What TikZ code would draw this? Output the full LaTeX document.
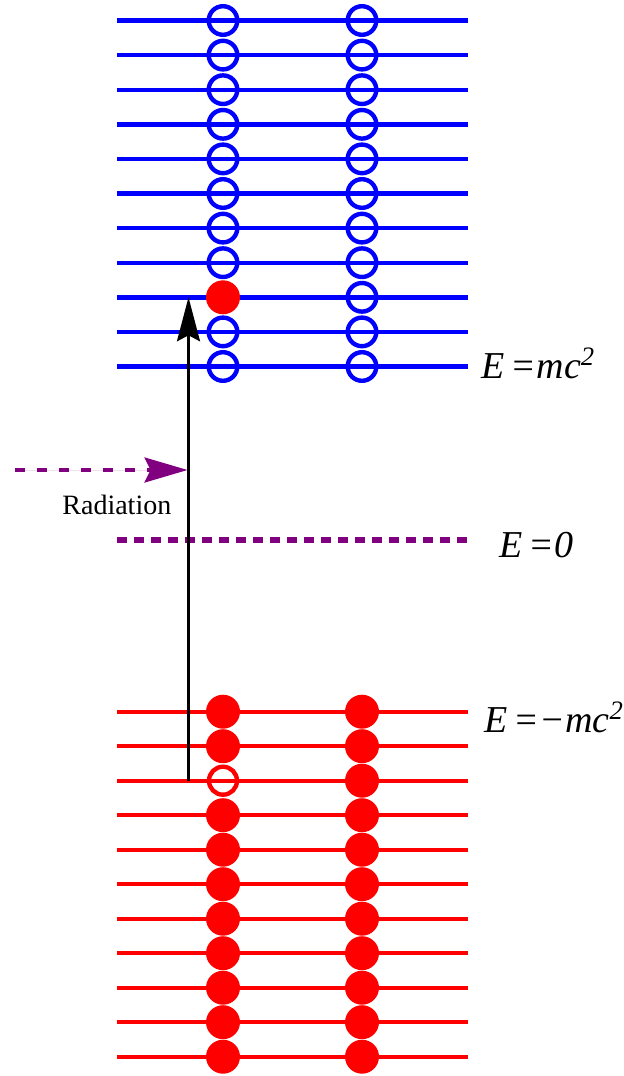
\documentclass[tikz,border=0pt]{standalone}
\usepackage{fontspec}
\setmainfont{Liberation Serif}
\usetikzlibrary{arrows.meta}
\definecolor{ljubicasta}{RGB}{128,0,128}

\begin{document}
\begin{tikzpicture}[x=0.5pt, y=-0.5pt,
    gornji/.style={draw=blue, line width=2.2pt},
    donji/.style={draw=red, line width=2.2pt},
    prazno/.style={circle, draw=blue, line width=2.2pt, minimum size=14.3pt, inner sep=0pt},
    rupa/.style={circle, draw=red, line width=2.2pt, minimum size=14pt, inner sep=0pt},
    puno/.style={circle, fill=red, minimum size=17pt, inner sep=0pt},
    nula/.style={draw=ljubicasta, line width=3.2pt, dash pattern=on 5pt off 3.5pt},
    zrak/.style={-{Stealth[length=21.5pt, width=12.5pt, inset=3pt]}, draw=ljubicasta, fill=ljubicasta,
                 line width=1.6pt, dash pattern=on 5pt off 6pt},
    skok/.style={-{Stealth[length=22pt, width=11.5pt, inset=3pt]}, draw=black, line width=1.2pt},
    oznaka/.style={anchor=base west, inner sep=0pt, font=\fontsize{19}{23}\selectfont\itshape}]

    \useasboundingbox (0,0) rectangle (623,1076);

    % pozitivni nivoi
    \foreach \k in {0,...,10} {
        \pgfmathsetmacro\y{20.5+34.6*\k}
        \coordinate (gl\k) at (117,\y);
        \coordinate (gd\k) at (468,\y);
        \draw [gornji] (gl\k) -- (gd\k);
        \ifnum\k=8
            \node (ga\k) [puno] at (223,\y) {};
        \else
            \node (ga\k) [prazno] at (223,\y) {};
        \fi
        \node (gb\k) [prazno] at (362,\y) {};
    }

    % negativni nivoi
    \foreach \k in {0,...,10} {
        \pgfmathsetmacro\y{711.7+34.5*\k}
        \coordinate (dl\k) at (117,\y);
        \coordinate (dd\k) at (468,\y);
        \draw [donji] (dl\k) -- (dd\k);
        \ifnum\k=2
            \node (da\k) [rupa] at (223,\y) {};
        \else
            \node (da\k) [puno] at (223,\y) {};
        \fi
        \node (db\k) [puno] at (362,\y) {};
    }

    % E = 0
    \coordinate (nl) at (117,540);
    \coordinate (nd) at (472,540);
    \draw [nula] (nl) -- (nd);

    % prelaz i zracenje
    \coordinate (skokA) at (188.5,780.7);
    \coordinate (skokB) at (188.5,297.3);
    \draw [skok] (skokA) -- (skokB);
    \coordinate (zrakA) at (15,470);
    \coordinate (zrakB) at (187.5,470);
    \draw [zrak] (zrakA) -- (zrakB);
    \node (rad) [anchor=base west, inner sep=0pt, font=\fontsize{14}{17}\selectfont] at (62,514) {Radiation};

    % oznake energija
    \node (emc)  [oznaka] at (481,378) {E\,=mc\textsuperscript{2}};
    \node (enul) [oznaka] at (499,557) {E\,=0};
    \node (emin) [oznaka] at (484,732) {E\,=−mc\textsuperscript{2}};
\end{tikzpicture}
\end{document}
